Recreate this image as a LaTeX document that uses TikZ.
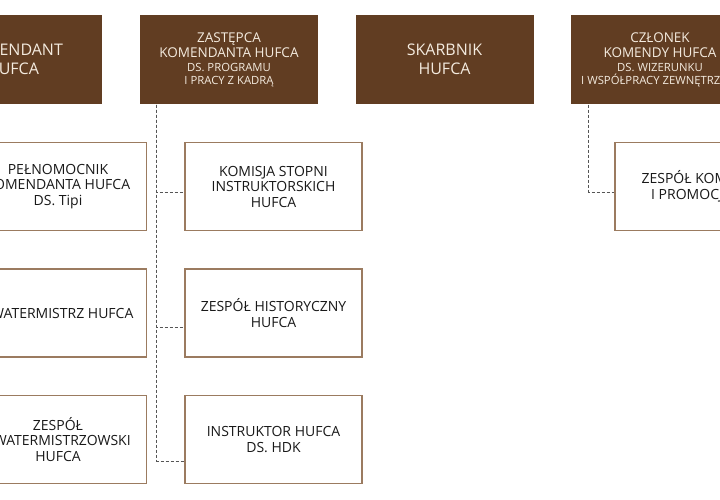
\documentclass[tikz,border=0pt]{standalone}
\usepackage{fontspec}
\setmainfont{Open Sans}
\usepackage{tikz}
\definecolor{hufbrown}{HTML}{613D22}
\definecolor{hufcream}{HTML}{F4EBDF}
\definecolor{hufline}{HTML}{9B7B60}
\definecolor{hufgrey}{HTML}{555555}

\begin{document}
\begin{tikzpicture}[x=1pt,y=1pt]
	\tikzset{head/.style = {shape=rectangle,fill=hufbrown,text=hufcream,minimum width=178pt,minimum height=89pt,inner sep=0pt,align=center,font=\fontsize{13.5}{16}\selectfont}}
	\tikzset{unit/.style = {shape=rectangle,draw=hufline,line width=1.1pt,fill=white,text=black!90,minimum width=177pt,minimum height=88pt,inner sep=0pt,align=center,font=\fontsize{14}{15.5}\selectfont}}
	\tikzset{link/.style = {draw=hufgrey,line width=0.9pt,dash pattern=on 3pt off 2pt}}
	\clip (0,0) rectangle (720,-500);
	% heads
	\node[head,font=\fontsize{16}{19}\selectfont] (komendant) at (13,-59.5) {KOMENDANT\\HUFCA};
	\node[head] (zastepca) at (229,-60) {ZASTĘPCA\\[-1pt]KOMENDANTA HUFCA\\[-2.5pt]{\fontsize{11.3}{13}\selectfont DS. PROGRAMU}\\[-3pt]{\fontsize{11.3}{13}\selectfont I PRACY Z KADRĄ}};
	\node[head,font=\fontsize{16}{19}\selectfont] (skarbnik) at (444.5,-59.5) {SKARBNIK\\HUFCA};
	\node[head] (czlonek) at (660,-60) {CZŁONEK\\[-1pt]KOMENDY HUFCA\\[-2.5pt]{\fontsize{11.3}{13}\selectfont DS. WIZERUNKU}\\[-3pt]{\fontsize{11.3}{13}\selectfont I WSPÓŁPRACY ZEWNĘTRZNEJ}};
	% units
	\node[unit] (pelnomocnik) at (58,-186.5) {PEŁNOMOCNIK\\KOMENDANTA HUFCA\\DS. Tipi};
	\node[unit] (kwatermistrz) at (58,-313) {KWATERMISTRZ HUFCA};
	\node[unit] (zespolkw) at (58,-439.5) {ZESPÓŁ\\KWATERMISTRZOWSKI\\HUFCA};
	\node[unit] (komisja) at (273.5,-186.5) {KOMISJA STOPNI\\INSTRUKTORSKICH\\HUFCA};
	\node[unit] (historia) at (273.5,-313) {ZESPÓŁ HISTORYCZNY\\HUFCA};
	\node[unit] (hdk) at (273.5,-439.5) {INSTRUKTOR HUFCA\\DS. HDK};
	\node[unit,minimum width=197pt] (zespolkom) at (713.5,-186.5) {ZESPÓŁ KOMUNIKACJI\\I PROMOCJI HUFCA};
	% links
	\draw[link] ([xshift=17pt]zastepca.south west) |- ([yshift=-5.5pt]komisja.west);
	\draw[link] ([xshift=17pt]zastepca.south west) |- ([yshift=-14pt]historia.west);
	\draw[link] ([xshift=17pt]zastepca.south west) |- ([yshift=-21.5pt]hdk.west);
	\draw[link] ([xshift=18pt]czlonek.south west) |- ([yshift=-5.5pt]zespolkom.west);
\end{tikzpicture}
\end{document}
